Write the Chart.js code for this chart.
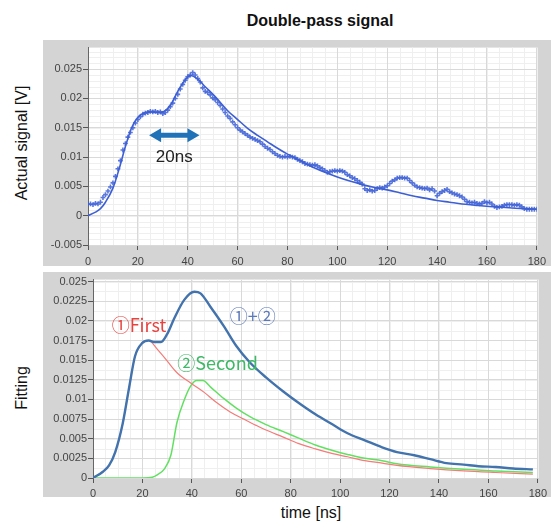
<!DOCTYPE html>
<html>
<head>
<meta charset="utf-8">
<script src="https://cdn.jsdelivr.net/npm/chart.js@4.4.1/dist/chart.umd.min.js"></script>
<style>
body { margin: 0; background: #fff; }
#wrap { position: relative; width: 551px; height: 523px; overflow: hidden; font-family: Arial, "Liberation Sans", sans-serif; color: #111; }
canvas { position: absolute; left: 0; }
.lbl { position: absolute; white-space: nowrap; transform: translate(-50%, -50%); font-size: 16px; }
.rot { transform: translate(-50%, -50%) rotate(-90deg); }
</style>
</head>
<body>
<div id="wrap">
  <div class="lbl" style="left:320px;top:21px;font-weight:bold;font-size:16px;">Double-pass signal</div>
  <div class="lbl rot" style="left:22px;top:143px;">Actual signal [V]</div>
  <div class="lbl rot" style="left:22px;top:388px;">Fitting</div>
  <div class="lbl" style="left:311px;top:513px;">time [ns]</div>
  <canvas id="topChart" width="551" height="226" style="top:40px"></canvas>
  <canvas id="botChart" width="551" height="225" style="top:272px"></canvas>
</div>
<script>
// measured signal, one sample per ns, in mV
const sampleStep = 1;
const sigMilliV = [
  2.0,2.0,1.9,2.1,2.0,2.3,3.1,3.6,4.2,4.9,
  5.6,6.7,8.0,9.4,11.2,12.3,13.4,14.2,15.0,15.8,
  16.4,16.9,17.3,17.5,17.6,17.8,17.7,17.8,17.6,17.7,
  17.4,17.6,18.0,18.6,19.2,20.0,20.7,21.6,22.4,23.1,
  23.7,24.0,24.4,24.0,23.4,22.8,21.8,21.2,21.0,20.6,
  20.1,19.8,19.3,18.8,18.2,17.6,17.0,16.6,16.0,15.5,
  15.0,14.6,14.3,14.0,13.7,13.4,13.2,13.0,12.8,12.6,
  12.2,11.8,11.5,11.3,10.9,10.6,10.3,10.1,10.0,10.1,
  10.0,10.1,10.0,9.9,9.6,9.4,9.2,8.9,8.8,8.7,
  8.6,8.7,8.5,8.2,8.0,7.7,7.4,7.5,7.6,7.7,
  7.6,7.7,7.6,7.4,7.0,6.8,6.5,6.3,6.0,5.7,
  5.4,4.6,4.3,4.4,4.2,4.3,4.6,4.8,4.7,4.9,
  5.1,5.5,5.9,6.1,6.4,6.5,6.5,6.4,6.4,6.0,
  5.6,5.2,4.9,4.8,4.7,4.6,4.7,4.4,4.6,4.2,
  3.4,3.8,4.1,4.3,4.5,4.1,3.9,3.7,3.6,3.4,
  3.2,2.8,2.4,2.3,2.2,2.3,2.1,2.0,2.1,2.4,
  2.2,2.3,2.0,1.6,1.4,1.5,1.6,1.8,1.9,1.9,
  1.9,1.8,1.9,1.8,1.5,1.2,1.1,1.1,1.1,1.1,
  1.1
];

// fitted curve on top plot
const fitT = [0,3,5,7,10,12.5,15,17.5,20,22.5,25,28,30.5,33,36,38.5,41,44,47,51,56,60,64,68,72,76,80,85,90,95,100,105,110,115,120,125,130,135,140,145,150,155,160,165,170,175,180];
const fitMilliV = [0,0.6,1.2,2.3,4.7,8.0,11.8,15.0,16.8,17.5,17.7,17.6,17.8,18.8,21.2,22.9,23.9,23.3,22.0,20.3,17.9,16.4,14.9,13.7,12.6,11.5,10.5,9.4,8.3,7.4,6.6,5.9,5.3,4.8,4.4,3.9,3.4,3.0,2.6,2.3,2.0,1.8,1.6,1.5,1.3,1.2,1.1];

// bottom plot: components and sum
const sumT = [0,4,6.5,9,12,14.5,17,20,22.5,25,27.5,30,33,37,41,43.5,47.5,53,58,63.5,70,77,83,90,97,103,110,117,123,130,136.5,143,150,156,163,170,178];
const sumMilliV = [0,0.8,1.6,3.3,6.9,11.3,15.5,17.2,17.5,17.3,17.3,18.3,20.4,22.7,23.7,23.5,21.8,19.3,16.8,14.7,12.8,11.0,9.6,8.1,6.8,5.7,4.8,3.9,3.3,2.9,2.4,1.9,1.7,1.5,1.4,1.2,1.1];
const firstT = [0,4,6.5,9,12,14.5,17,20,22.5,26,30,34,39.5,45,50,55.5,61,66,70,77,83,90,97,103,110,117,123,136.5,150,163,178];
const firstMilliV = [0,0.8,1.6,3.3,6.9,11.3,15.5,17.2,17.5,16.4,14.9,13.4,12.1,10.9,9.6,8.4,7.5,6.7,6.1,5.2,4.4,3.7,3.1,2.7,2.2,1.9,1.6,1.2,0.9,0.7,0.5];
const secondT = [0,10,20,24,26,29,31.5,34,37,39.5,42,44.5,47.5,53,58,63.5,70,77,83,90,97,103,110,117,123,136.5,150,163,178];
const secondMilliV = [0,0,0,0.1,0.4,1.2,2.9,7.1,10.0,11.7,12.4,12.4,11.6,10.1,8.9,7.8,6.8,5.9,5.1,4.2,3.5,3.0,2.5,2.2,1.8,1.4,1.1,0.9,0.7];

// text notes on bottom plot
const noteText = ['\u2460First', '\u2461Second', '\u2460+\u2461'];
const noteT = [18.6, 50.4, 64.6];
const noteV = [0.0195, 0.0146, 0.0206];
const noteColor = ['#e8423f', '#3fb867', '#5b79ba'];

function pts(ts, mv) {
  return ts.map((t, i) => ({ x: t, y: mv[i] / 1000 }));
}
const sigPts = sigMilliV.map((v, i) => ({ x: i * sampleStep, y: v / 1000 }));

function fmt(v) {
  return String(Number(v.toFixed(5)));
}

Chart.defaults.font.family = 'Arial, "Liberation Sans", sans-serif';
Chart.defaults.font.size = 11;
Chart.defaults.color = '#444';

// gray panel, white plot area and light minor grid
const panelBg = {
  id: 'panelBg',
  beforeDraw(chart, args, o) {
    const { ctx, chartArea: a, scales: { x, y } } = chart;
    ctx.save();
    ctx.fillStyle = '#d4d4d4';
    ctx.fillRect(43, 0, chart.width - 43, chart.height);
    ctx.fillStyle = '#fff';
    ctx.fillRect(a.left, a.top, a.width, a.height);
    ctx.strokeStyle = '#efefef';
    ctx.lineWidth = 1;
    ctx.beginPath();
    for (let k = 0; k <= 36; k++) {
      const px = Math.round(x.getPixelForValue(k * 5)) + 0.5;
      ctx.moveTo(px, a.top); ctx.lineTo(px, a.bottom);
    }
    for (let k = o.yFrom; k <= o.yTo; k++) {
      const py = Math.round(y.getPixelForValue(k * o.yMinor)) + 0.5;
      if (py < a.top || py > a.bottom) continue;
      ctx.moveTo(a.left, py); ctx.lineTo(a.right, py);
    }
    ctx.stroke();
    ctx.restore();
  }
};

const notes = {
  id: 'notes',
  afterDatasetsDraw(chart, args, o) {
    const { ctx, scales: { x, y } } = chart;
    ctx.save();
    if (o.arrow) {
      const x1 = x.getPixelForValue(o.arrow[0]);
      const x2 = x.getPixelForValue(o.arrow[1]);
      const yy = y.getPixelForValue(o.arrow[2]);
      ctx.fillStyle = '#1f72b8';
      ctx.beginPath();
      ctx.moveTo(x1, yy);
      ctx.lineTo(x1 + 12, yy - 7);
      ctx.lineTo(x1 + 12, yy - 2.5);
      ctx.lineTo(x2 - 12, yy - 2.5);
      ctx.lineTo(x2 - 12, yy - 7);
      ctx.lineTo(x2, yy);
      ctx.lineTo(x2 - 12, yy + 7);
      ctx.lineTo(x2 - 12, yy + 2.5);
      ctx.lineTo(x1 + 12, yy + 2.5);
      ctx.lineTo(x1 + 12, yy + 7);
      ctx.closePath();
      ctx.fill();
    }
    ctx.textAlign = 'center';
    ctx.textBaseline = 'middle';
    (o.texts || []).forEach(n => {
      ctx.font = n.font;
      ctx.fillStyle = n.color;
      ctx.fillText(n.text, x.getPixelForValue(n.t), y.getPixelForValue(n.v));
    });
    ctx.restore();
  }
};

function xAxis(h, pad) {
  return {
    type: 'linear', min: 0, max: 180,
    afterFit: s => { s.height = h; },
    ticks: { stepSize: 20, padding: pad, maxRotation: 0, color: '#444' },
    grid: { color: '#d9d9d9', tickColor: '#555', tickLength: 5 },
    border: { display: false }
  };
}

new Chart(document.getElementById('topChart'), {
  type: 'scatter',
  data: {
    datasets: [
      {
        data: pts(fitT, fitMilliV), showLine: true, pointRadius: 0,
        borderColor: '#3d5fd4', borderWidth: 1.6, cubicInterpolationMode: 'monotone', order: 0
      },
      {
        data: sigPts, pointStyle: 'cross', pointRadius: 2.4, borderWidth: 1.6,
        borderColor: 'rgba(60,95,215,0.85)', backgroundColor: 'rgba(60,95,215,0.85)', order: 1
      }
    ]
  },
  options: {
    responsive: false, animation: false,
    layout: { autoPadding: false, padding: { top: 3, right: 4 } },
    plugins: {
      legend: { display: false }, tooltip: { enabled: false },
      panelBg: { yMinor: 0.001, yFrom: -5, yTo: 28 },
      notes: {
        arrow: [24.5, 44.7, 0.0137],
        texts: [{ text: '20ns', t: 34.6, v: 0.0100, font: '17px Arial, "Liberation Sans", sans-serif', color: '#222' }]
      }
    },
    scales: {
      x: xAxis(21, 5),
      y: {
        min: -0.005, max: 0.02867,
        afterFit: s => { s.width = 88; },
        ticks: { stepSize: 0.005, includeBounds: false, padding: 1, callback: fmt, color: '#444' },
        grid: { color: '#d9d9d9', tickColor: '#555', tickLength: 5 },
        border: { display: true, color: '#666', width: 1 }
      }
    }
  },
  plugins: [panelBg, notes]
});

new Chart(document.getElementById('botChart'), {
  type: 'scatter',
  data: {
    datasets: [
      {
        data: pts(sumT, sumMilliV), showLine: true, pointRadius: 0,
        borderColor: '#4273ad', borderWidth: 2.4, cubicInterpolationMode: 'monotone', order: 0
      },
      {
        data: pts(firstT, firstMilliV), showLine: true, pointRadius: 0,
        borderColor: '#f37b78', borderWidth: 1.2, cubicInterpolationMode: 'monotone', order: 1
      },
      {
        data: pts(secondT, secondMilliV), showLine: true, pointRadius: 0,
        borderColor: '#62e062', borderWidth: 1.5, cubicInterpolationMode: 'monotone', order: 2
      }
    ]
  },
  options: {
    responsive: false, animation: false,
    layout: { autoPadding: false, padding: { top: 7, right: 3 } },
    plugins: {
      legend: { display: false }, tooltip: { enabled: false },
      panelBg: { yMinor: 0.00125, yFrom: 0, yTo: 20 },
      notes: {
        texts: noteText.map((s, i) => ({
          text: s, t: noteT[i], v: noteV[i], color: noteColor[i],
          font: '18px "Noto Sans CJK JP", Arial, sans-serif'
        }))
      }
    },
    scales: {
      x: xAxis(19, 4),
      y: {
        min: 0, max: 0.02525,
        afterFit: s => { s.width = 93; },
        ticks: { stepSize: 0.0025, includeBounds: false, padding: 1, callback: fmt, color: '#444' },
        grid: { color: '#d9d9d9', tickColor: '#555', tickLength: 5 },
        border: { display: true, color: '#666', width: 1 }
      }
    }
  },
  plugins: [panelBg, notes]
});
</script>
</body>
</html>
